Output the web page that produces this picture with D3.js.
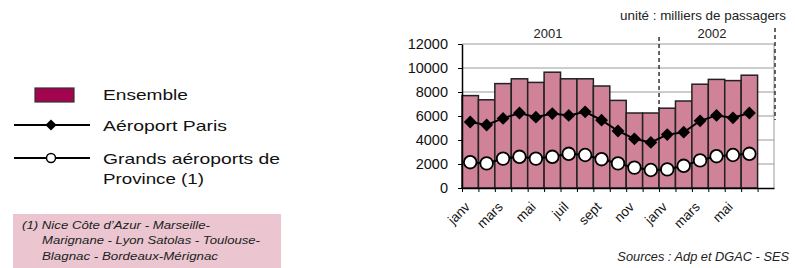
<!DOCTYPE html>
<html>
<head>
<meta charset="utf-8">
<script src="https://cdn.jsdelivr.net/npm/d3@7"></script>
<style>
  body { margin: 0; background: #fff; }
  svg { display: block; font-family: "Liberation Sans", Arial, sans-serif; }
</style>
</head>
<body>
<script>
// months (key per category) - last one is empty (juil 2002)
var months = ['2001-01','2001-02','2001-03','2001-04','2001-05','2001-06','2001-07','2001-08','2001-09','2001-10','2001-11','2001-12',
              '2002-01','2002-02','2002-03','2002-04','2002-05','2002-06','2002-07'];
var monthLabels = ['janv','','mars','','mai','','juil','','sept','','nov','','janv','','mars','','mai','',''];
var ensemble = [7700, 7350, 8700, 9100, 8800, 9650, 9100, 9100, 8500, 7300, 6250, 6250,
                6650, 7250, 8650, 9050, 8950, 9400];
var paris    = [5500, 5250, 5800, 6250, 5900, 6200, 6050, 6350, 5650, 4750, 4100, 3800,
                4450, 4650, 5600, 6050, 5850, 6250];
var province = [2150, 2050, 2450, 2600, 2450, 2600, 2850, 2750, 2400, 2050, 1700, 1500,
                1550, 1850, 2300, 2650, 2750, 2850];
var yTicks = [0, 2000, 4000, 6000, 8000, 10000, 12000];
var years = ['2001', '2002'];

var width = 795, height = 268;
var plot = { left: 462, right: 774, top: 44, bottom: 188 };

var svg = d3.select('body').append('svg')
    .attr('width', width)
    .attr('height', height);

var xScale = d3.scaleBand().domain(months).range([plot.left, plot.right]).padding(0);
var xIdx = d3.scaleLinear().domain([0, months.length]).range([plot.left, plot.right]);
var yScale = d3.scaleLinear().domain([0, 12000]).range([plot.bottom, plot.top]);

// gridlines
svg.append('g').selectAll('line')
  .data(yTicks.slice(1))
  .enter().append('line')
    .attr('x1', plot.left).attr('x2', plot.right)
    .attr('y1', function(d) { return yScale(d); })
    .attr('y2', function(d) { return yScale(d); })
    .attr('stroke', '#9a9a9a').attr('stroke-width', 1);

// right border of plot
svg.append('line')
  .attr('x1', plot.right).attr('x2', plot.right)
  .attr('y1', plot.top).attr('y2', plot.bottom)
  .attr('stroke', '#9a9a9a');

// year separators (dashed)
svg.append('line')
  .attr('x1', xIdx(12)).attr('x2', xIdx(12))
  .attr('y1', 37).attr('y2', plot.bottom)
  .attr('stroke', '#333').attr('stroke-width', 1.5).attr('stroke-dasharray', '4,3');
svg.append('line')
  .attr('x1', xIdx(19) + 1).attr('x2', xIdx(19) + 1)
  .attr('y1', 28).attr('y2', 120)
  .attr('stroke', '#333').attr('stroke-width', 1.5).attr('stroke-dasharray', '4,3');

// year labels
svg.append('g').selectAll('text')
  .data(years)
  .enter().append('text')
    .attr('x', function(d, i) { return i === 0 ? 548 : 712; })
    .attr('y', 38)
    .attr('text-anchor', 'middle')
    .attr('font-size', 13)
    .attr('fill', '#222')
    .text(function(d) { return d; });

// bars
svg.append('g').selectAll('rect')
  .data(ensemble)
  .enter().append('rect')
    .attr('x', function(d, i) { return xScale(months[i]); })
    .attr('y', function(d) { return yScale(d); })
    .attr('width', xScale.bandwidth())
    .attr('height', function(d) { return plot.bottom - yScale(d); })
    .attr('fill', '#d08299')
    .attr('stroke', '#222')
    .attr('stroke-width', 1.5);

var cx = function(d, i) { return xScale(months[i]) + xScale.bandwidth() / 2; };
var line = d3.line()
  .x(cx)
  .y(function(d) { return yScale(d); });

// Paris
svg.append('path').datum(paris)
  .attr('d', line).attr('fill', 'none')
  .attr('stroke', '#000').attr('stroke-width', 2);
svg.append('g').selectAll('path')
  .data(paris)
  .enter().append('path')
    .attr('d', d3.symbol().type(d3.symbolDiamond2).size(105))
    .attr('transform', function(d, i) { return 'translate(' + cx(d, i) + ',' + yScale(d) + ')'; })
    .attr('fill', '#000');

// Province
svg.append('path').datum(province)
  .attr('d', line).attr('fill', 'none')
  .attr('stroke', '#000').attr('stroke-width', 2);
svg.append('g').selectAll('circle')
  .data(province)
  .enter().append('circle')
    .attr('cx', cx)
    .attr('cy', function(d) { return yScale(d); })
    .attr('r', 6.3)
    .attr('fill', '#fff')
    .attr('stroke', '#000').attr('stroke-width', 1.8);

// y axis
var yAxis = svg.append('g')
  .attr('transform', 'translate(' + plot.left + ',0)')
  .call(d3.axisLeft(yScale).tickValues(yTicks).tickFormat(d3.format('d'))
    .tickSize(4).tickSizeOuter(0).tickPadding(10));
yAxis.select('.domain').attr('stroke', '#000').attr('stroke-width', 1.5);
yAxis.selectAll('.tick line').attr('stroke', '#000');
yAxis.selectAll('text').attr('font-size', 14.5).attr('fill', '#111')
  .attr('font-family', '"Liberation Sans", Arial, sans-serif');

// x axis: ticks at category boundaries
var xAxis = svg.append('g')
  .attr('transform', 'translate(0,' + plot.bottom + ')')
  .call(d3.axisBottom(xIdx).tickValues(d3.range(0, 19)).tickSize(4).tickSizeOuter(0).tickFormat(''));
xAxis.select('.domain').attr('stroke', '#000').attr('stroke-width', 1.5);
xAxis.selectAll('.tick line').attr('stroke', '#000');

// month labels
svg.append('g').selectAll('text')
  .data(monthLabels)
  .enter().append('text')
    .attr('transform', function(d, i) {
      return 'translate(' + (xScale(months[i]) + xScale.bandwidth() / 2 - 6) + ',' + (plot.bottom + 13) + ') rotate(-45)';
    })
    .attr('text-anchor', 'end')
    .attr('dy', '0.7em')
    .attr('font-size', 13.5)
    .attr('fill', '#111')
    .text(function(d) { return d; });

// unit + source
svg.append('text')
  .attr('x', 786).attr('y', 20)
  .attr('text-anchor', 'end').attr('font-size', 13.4).attr('fill', '#222')
  .text('unité : milliers de passagers');
svg.append('text')
  .attr('x', 789).attr('y', 261)
  .attr('text-anchor', 'end').attr('font-size', 12.8).attr('font-style', 'italic').attr('fill', '#222')
  .text('Sources : Adp et DGAC - SES');

// legend
var legend = svg.append('g');
function legendText(txt, y, len) {
  legend.append('text').attr('x', 103).attr('y', y)
    .attr('font-size', 15).attr('fill', '#111')
    .attr('textLength', len).attr('lengthAdjust', 'spacingAndGlyphs')
    .text(txt);
}
legend.append('rect')
  .attr('x', 35).attr('y', 88).attr('width', 39).attr('height', 14)
  .attr('fill', '#a3044f').attr('stroke', '#333').attr('stroke-width', 1.2);
legendText('Ensemble', 100, 85);

legend.append('line').attr('x1', 14).attr('x2', 90).attr('y1', 125).attr('y2', 125)
  .attr('stroke', '#000').attr('stroke-width', 2);
legend.append('path')
  .attr('d', d3.symbol().type(d3.symbolDiamond2).size(80))
  .attr('transform', 'translate(51,125)').attr('fill', '#000');
legendText('Aéroport Paris', 131, 124);

legend.append('line').attr('x1', 14).attr('x2', 90).attr('y1', 158).attr('y2', 158)
  .attr('stroke', '#000').attr('stroke-width', 2);
legend.append('circle').attr('cx', 51).attr('cy', 158).attr('r', 4.5)
  .attr('fill', '#fff').attr('stroke', '#000').attr('stroke-width', 1.5);
legendText('Grands aéroports de', 164, 177);
legendText('Province (1)', 184, 101);

// footnote box
var notes = ['(1) Nice Côte d\u2019Azur - Marseille-', 'Marignane - Lyon Satolas - Toulouse-', 'Blagnac - Bordeaux-Mérignac'];
var noteLens = [188, 218, 176];
svg.append('rect')
  .attr('x', 13).attr('y', 214).attr('width', 268).attr('height', 54)
  .attr('fill', '#ebc6d1');
svg.append('g').selectAll('text')
  .data(notes)
  .enter().append('text')
    .attr('x', function(d, i) { return i === 0 ? 22 : 42; })
    .attr('y', function(d, i) { return 229 + i * 15.3; })
    .attr('font-size', 11.5).attr('font-style', 'italic').attr('fill', '#222')
    .attr('textLength', function(d, i) { return noteLens[i]; })
    .attr('lengthAdjust', 'spacingAndGlyphs')
    .text(function(d) { return d; });
</script>
</body>
</html>
